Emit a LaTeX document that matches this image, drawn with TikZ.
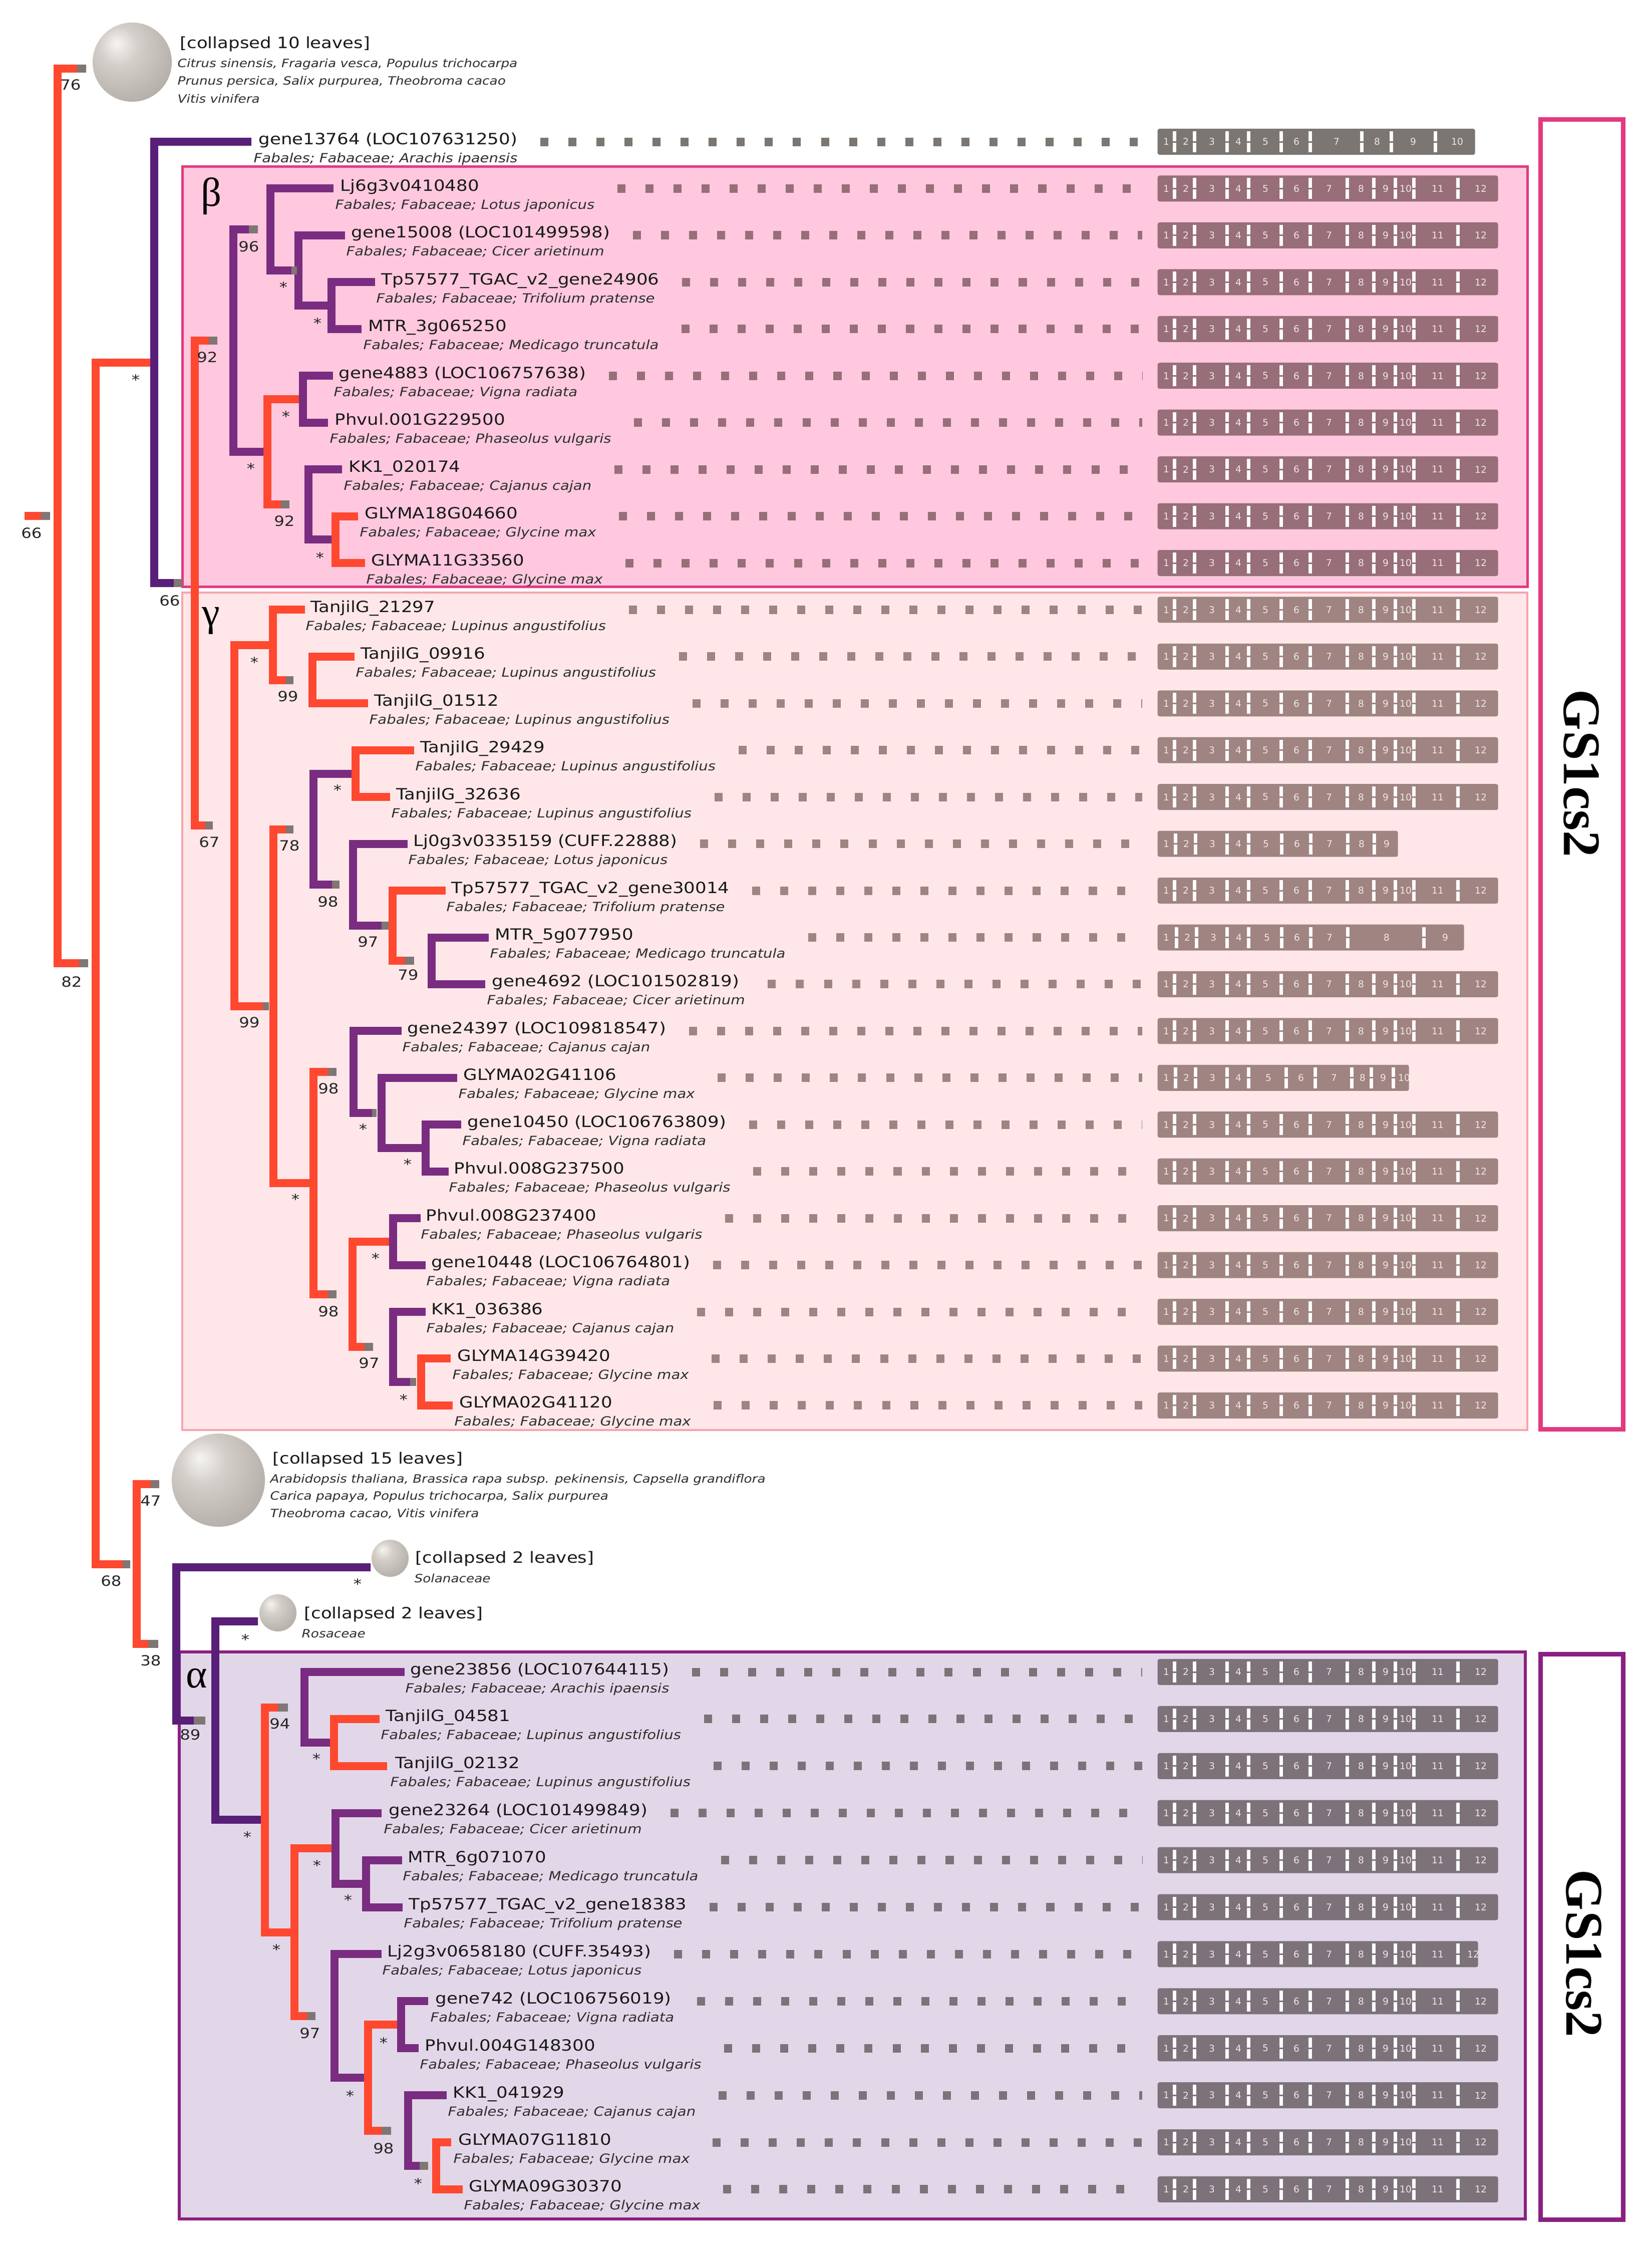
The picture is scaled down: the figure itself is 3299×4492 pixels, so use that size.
\documentclass[tikz,border=0pt]{standalone}
\usepackage{fontspec}
\usetikzlibrary{calc}
\newfontfamily\nmf{DejaVu Sans}[FakeStretch=1.15]
\newfontfamily\exf{DejaVu Sans}
\newfontfamily\grf{Liberation Serif}
\definecolor{cR}{RGB}{255,72,48}
\definecolor{cP}{RGB}{88,30,120}
\definecolor{cQ}{RGB}{122,44,128}
\definecolor{cGr}{RGB}{128,118,115}
\definecolor{bFi}{RGB}{255,200,222}
\definecolor{bBd}{RGB}{226,58,128}
\definecolor{gFi}{RGB}{255,231,233}
\definecolor{gBd}{RGB}{247,165,172}
\definecolor{aFi}{RGB}{226,215,232}
\definecolor{aBd}{RGB}{138,32,130}
\definecolor{exW}{RGB}{123,118,113}
\definecolor{exB}{RGB}{152,110,120}
\definecolor{exG}{RGB}{160,132,130}
\definecolor{exA}{RGB}{126,114,122}
\definecolor{exT}{RGB}{238,230,230}
\definecolor{ballA}{RGB}{246,244,242}
\definecolor{ballB}{RGB}{212,207,202}
\definecolor{ballC}{RGB}{186,180,174}
\definecolor{ballD}{RGB}{160,153,147}
\colorlet{excol}{exW}
\pgfdeclareradialshading{cball}{\pgfpoint{-10bp}{12bp}}{color(0bp)=(ballA); color(12bp)=(ballB); color(30bp)=(ballC); color(50bp)=(ballD); color(75bp)=(ballD)}
\tikzset{
 br/.style={line width=0.16cm, line join=miter},
 nm/.style={font=\nmf\fontsize{8.8}{10}\selectfont, inner sep=0pt, text=black!90},
 spn/.style={font=\nmf\itshape\fontsize{7.2}{8}\selectfont, inner sep=0pt, text=black!82},
 cl/.style={font=\nmf\fontsize{8.8}{10}\selectfont, inner sep=0pt, anchor=west, text=black!90},
 cls/.style={font=\nmf\itshape\fontsize{6.5}{8}\selectfont, inner sep=0pt, anchor=west, text=black!82},
 bs/.style={font=\nmf\fontsize{8}{9}\selectfont, inner sep=0pt, text=black!85},
 st/.style={bs, yshift=-0.06cm},
 extxt/.style={font=\exf\fontsize{5.3}{6}\selectfont, text=exT, inner sep=0pt},
 exbox/.style={fill=excol, rounded corners=0.04cm, minimum height=0.52cm, inner sep=0pt},
 dl/.style={draw=excol, line width=0.17cm, dash pattern=on 0.16cm off 0.40cm},
 grk/.style={font=\grf\fontsize{23}{24}\selectfont, inner sep=0pt},
 gslab/.style={font=\grf\bfseries\fontsize{30}{32}\selectfont, rotate=-90, inner sep=0pt},
}
\def\sepsS{34,74,139,182,247,305,379,432,475,512,600}
\def\labsS{18/1,57/2,109/3,162/4,216/5,278/6,343/7,407/8,456/9,496/10,560/11,646/12}
\def\labsSs{18/1,57/2,109/3,162/4,216/5,278/6,343/7,407/8,456/9,496/10,560/11,631/12}
\def\sepsT{34,74,139,182,247,305,408,467,555}
\def\labsT{18/1,57/2,109/3,162/4,216/5,278/6,358/7,439/8,511/9,599/10}
\def\sepsNa{36,76,139,182,248,306,380,433}
\def\labsNa{18/1,58/2,110/3,162/4,217/5,279/6,344/7,408/8,458/9}
\def\sepsNb{38,78,139,182,248,306,380,532}
\def\labsNb{18/1,60/2,112/3,163/4,219/5,279/6,344/7,458/8,575/9}
\def\sepsTb{36,76,139,182,257,315,388,427,471}
\def\labsTb{18/1,58/2,110/3,162/4,222/5,287/6,353/7,410/8,451/9,493/10}
\newcommand{\exonrow}[5]{%
  \node[exbox, minimum width=#3*0.01cm, anchor=west] (#1) at (2311,#2) {};
  \begin{scope}
    \clip (2311,#2-30) rectangle (2311+#3,#2+30);
    \foreach \sx in #4 {%
      \fill[white] (2311+\sx-3.5,#2-21) rectangle (2311+\sx+3.5,#2+21);
      \draw[excol, line width=0.03cm] (2311+\sx-8,#2) -- (2311+\sx+3.5,#2);
    }
    \foreach \px/\lb in #5 {\node[extxt] at (2311+\px,#2) {\lb};}
  \end{scope}}
\newcommand{\tleaf}[8]{%
  \node[nm, anchor=base west] (#1) at (#3,#2+5) {#4};
  \node[spn, anchor=base west] (#1s) at (#3-10,#2+41) {Fabales; Fabaceae; #5};
  \exonrow{#1e}{#2}{#6}{#7}{#8}
  \draw[dl] let \p1=(#1.east), \p2=(#1s.east), \p3=(#1e.west) in ({max(\x1,\x2)+0.45cm},\y3) -- ([xshift=-0.3cm]#1e.west);
}
\newcommand{\tbrk}[4]{\draw[br,#1] (#3) -- (#3 -| #2) -- (#4 -| #2) -- (#4);}
\newcommand{\gsq}[3]{\fill[cGr] (#1,#3-8) rectangle (#2,#3+8);}
\begin{document}
\begin{tikzpicture}[x=0.01cm,y=-0.01cm]
\fill[white] (0,0) rectangle (3299,4492);
\useasboundingbox (0,0) rectangle (3299,4492);
% clade boxes
\draw[line width=0.05cm, draw=bBd, fill=bFi] (364,332) rectangle (3050,1171);
\draw[line width=0.04cm, draw=gBd, fill=gFi] (364,1183) rectangle (3050,2855);
\draw[line width=0.06cm, draw=aBd, fill=aFi] (358,3298) rectangle (3046,4430);
\draw[line width=0.09cm, draw=bBd, fill=white] (3076,238) rectangle (3241,2853);
\draw[line width=0.09cm, draw=aBd, fill=white] (3076,3302) rectangle (3241,4431);
\node[gslab] (gsA) at (3158,1544) {GS1cs2};
\node[gslab] (gsB) at (3163,3900) {GS1cs2};
% leaf tips
\coordinate (tL1) at (502,283);
\coordinate (tL2) at (666,376.4);
\coordinate (tL3) at (689,469.9);
\coordinate (tL4) at (749,563.3);
\coordinate (tL5) at (722,656.8);
\coordinate (tL6) at (665,750.2);
\coordinate (tL7) at (655,843.6);
\coordinate (tL8) at (683,937.1);
\coordinate (tL9) at (715,1030.5);
\coordinate (tL10) at (729,1124);
\coordinate (tL11) at (609,1217.4);
\coordinate (tL12) at (708,1310.8);
\coordinate (tL13) at (735,1404.3);
\coordinate (tL14) at (827,1497.7);
\coordinate (tL15) at (779,1591.2);
\coordinate (tL16) at (814,1684.6);
\coordinate (tL17) at (890,1778);
\coordinate (tL18) at (976,1871.5);
\coordinate (tL19) at (969,1964.9);
\coordinate (tL20) at (802,2058.4);
\coordinate (tL21) at (913,2151.8);
\coordinate (tL22) at (921,2245.2);
\coordinate (tL23) at (896,2338.7);
\coordinate (tL24) at (840,2432.1);
\coordinate (tL25) at (850,2525.6);
\coordinate (tL26) at (850,2619);
\coordinate (tL27) at (900,2712.4);
\coordinate (tL28) at (904,2805.9);
\coordinate (tL29) at (808,3338);
\coordinate (tL30) at (758,3431.9);
\coordinate (tL31) at (773,3525.8);
\coordinate (tL32) at (762,3619.7);
\coordinate (tL33) at (803,3713.6);
\coordinate (tL34) at (804,3807.5);
\coordinate (tL35) at (762,3901.4);
\coordinate (tL36) at (855,3995.3);
\coordinate (tL37) at (836,4089.2);
\coordinate (tL38) at (892,4183.1);
\coordinate (tL39) at (901,4277);
\coordinate (tL40) at (924,4370.9);
\coordinate (tC10) at (154,137);
\coordinate (t47) at (301,2963);
\coordinate (tSol) at (740,3129);
\coordinate (tRos) at (515,3237);
% internal nodes and their branch tips
\coordinate (nR0) at (115,1030);
\coordinate (n82) at (191,1923); \coordinate (t82) at (158,1923);
\coordinate (nS) at (308,723.6); \coordinate (tS) at (308,723.6);
\coordinate (n66) at (389,1164.2); \coordinate (t66) at (347,1164.2);
\coordinate (nB92) at (466,680.1); \coordinate (tB92) at (417,680.1);
\coordinate (nA96) at (540,458.2); \coordinate (tA96) at (497,458.2);
\coordinate (nB) at (596,540); \coordinate (tB) at (582,540);
\coordinate (nC) at (662,610); \coordinate (tC) at (662,610);
\coordinate (nD) at (534,902); \coordinate (tD) at (534,902);
\coordinate (nE) at (605,796.9); \coordinate (tE) at (605,796.9);
\coordinate (nF92) at (616,1007.2); \coordinate (tF92) at (561,1007.2);
\coordinate (nG) at (670,1077.3); \coordinate (tG) at (670,1077.3);
\coordinate (nG67) at (468,1648.2); \coordinate (tG67) at (410,1648.2);
\coordinate (nT) at (545,1287.5); \coordinate (tT) at (545,1287.5);
\coordinate (nU99) at (624,1357.6); \coordinate (tU99) at (571,1357.6);
\coordinate (nH99) at (546,2008.8); \coordinate (tH99) at (525,2008.8);
\coordinate (nI78) at (626,1655.5); \coordinate (tI78) at (571,1655.5);
\coordinate (nK) at (710,1544.5); \coordinate (tK) at (710,1544.5);
\coordinate (nL98) at (705,1766.4); \coordinate (tL98) at (663,1766.4);
\coordinate (nM97) at (784,1848.1); \coordinate (tM97) at (762,1848.1);
\coordinate (nN79) at (862,1918.2); \coordinate (tN79) at (808,1918.2);
\coordinate (nJ) at (626,2362.1); \coordinate (tJ) at (626,2362.1);
\coordinate (nO98) at (706,2140.2); \coordinate (tO98) at (655,2140.2);
\coordinate (nQ) at (762,2221.9); \coordinate (tQ) at (743,2221.9);
\coordinate (nR) at (850,2292); \coordinate (tR) at (850,2292);
\coordinate (nP98) at (704,2584); \coordinate (tP98) at (655,2584);
\coordinate (nV) at (785,2478.9); \coordinate (tV) at (785,2478.9);
\coordinate (nW97) at (785,2689.1); \coordinate (tW97) at (728,2689.1);
\coordinate (nX) at (841,2759.2); \coordinate (tX) at (819,2759.2);
\coordinate (n68) at (273,3122.5); \coordinate (t68) at (245,3122.5);
\coordinate (n38) at (352,3282); \coordinate (t38) at (296,3282);
\coordinate (n89) at (430,3435); \coordinate (t89) at (387,3435);
\coordinate (nAl) at (529,3633); \coordinate (tAl) at (529,3633);
\coordinate (n94) at (608,3408.5); \coordinate (t94) at (555,3408.5);
\coordinate (nY) at (667,3478.9); \coordinate (tY) at (667,3478.9);
\coordinate (nZ) at (588,3857.5); \coordinate (tZ) at (588,3857.5);
\coordinate (nAA) at (670,3690.2); \coordinate (tAA) at (670,3690.2);
\coordinate (nAC) at (731,3760.6); \coordinate (tAC) at (731,3760.6);
\coordinate (nAB97) at (668,4024.7); \coordinate (tAB97) at (613,4024.7);
\coordinate (nAD) at (735,4148); \coordinate (tAD) at (735,4148);
\coordinate (nAE) at (801,4042.3); \coordinate (tAE) at (801,4042.3);
\coordinate (nAF98) at (815,4253.6); \coordinate (tAF98) at (762,4253.6);
\coordinate (nAG) at (871,4324); \coordinate (tAG) at (838,4324);
% root stub
\coordinate (rootL) at (49,1030); \coordinate (rootT) at (82,1030);
\draw[br,cR] (rootL) -- (rootT);
% brackets
\tbrk{cR}{nR0}{tC10}{t82}
\tbrk{cR}{n82}{tS}{t68}
\tbrk{cP}{nS}{tL1}{t66}
\tbrk{cR}{n66}{tB92}{tG67}
\tbrk{cQ}{nB92}{tA96}{tD}
\tbrk{cQ}{nA96}{tL2}{tB}
\tbrk{cQ}{nB}{tL3}{tC}
\tbrk{cQ}{nC}{tL4}{tL5}
\tbrk{cR}{nD}{tE}{tF92}
\tbrk{cQ}{nE}{tL6}{tL7}
\tbrk{cQ}{nF92}{tL8}{tG}
\tbrk{cR}{nG}{tL9}{tL10}
\tbrk{cR}{nG67}{tT}{tH99}
\tbrk{cR}{nT}{tL11}{tU99}
\tbrk{cR}{nU99}{tL12}{tL13}
\tbrk{cR}{nH99}{tI78}{tJ}
\tbrk{cQ}{nI78}{tK}{tL98}
\tbrk{cR}{nK}{tL14}{tL15}
\tbrk{cQ}{nL98}{tL16}{tM97}
\tbrk{cR}{nM97}{tL17}{tN79}
\tbrk{cQ}{nN79}{tL18}{tL19}
\tbrk{cR}{nJ}{tO98}{tP98}
\tbrk{cQ}{nO98}{tL20}{tQ}
\tbrk{cQ}{nQ}{tL21}{tR}
\tbrk{cQ}{nR}{tL22}{tL23}
\tbrk{cR}{nP98}{tV}{tW97}
\tbrk{cQ}{nV}{tL24}{tL25}
\tbrk{cQ}{nW97}{tL26}{tX}
\tbrk{cR}{nX}{tL27}{tL28}
\tbrk{cR}{n68}{t47}{t38}
\tbrk{cP}{n38}{tSol}{t89}
\tbrk{cP}{n89}{tRos}{tAl}
\tbrk{cR}{nAl}{t94}{tZ}
\tbrk{cQ}{n94}{tL29}{tY}
\tbrk{cR}{nY}{tL30}{tL31}
\tbrk{cR}{nZ}{tAA}{tAB97}
\tbrk{cQ}{nAA}{tL32}{tAC}
\tbrk{cQ}{nAC}{tL33}{tL34}
\tbrk{cQ}{nAB97}{tL35}{tAD}
\tbrk{cR}{nAD}{tAE}{tAF98}
\tbrk{cQ}{nAE}{tL36}{tL37}
\tbrk{cQ}{nAF98}{tL38}{tAG}
\tbrk{cR}{nAG}{tL39}{tL40}
% support squares
\gsq{82}{100}{1030}
\gsq{154}{172}{137}
\gsq{158}{176}{1923}
\gsq{347}{364}{1164.2}
\gsq{417}{434}{680.1}
\gsq{497}{515}{458.2}
\gsq{582}{593}{540}
\gsq{561}{578}{1007.2}
\gsq{410}{425}{1648.2}
\gsq{571}{586}{1357.6}
\gsq{525}{537}{2008.8}
\gsq{571}{586}{1655.5}
\gsq{663}{678}{1766.4}
\gsq{762}{776}{1848.1}
\gsq{808}{827}{1918.2}
\gsq{655}{672}{2140.2}
\gsq{743}{752}{2221.9}
\gsq{655}{672}{2584}
\gsq{728}{745}{2689.1}
\gsq{819}{831}{2759.2}
\gsq{245}{260}{3122.5}
\gsq{301}{318}{2963}
\gsq{296}{316}{3282}
\gsq{387}{410}{3435}
\gsq{555}{575}{3408.5}
\gsq{613}{630}{4024.7}
\gsq{762}{781}{4253.6}
\gsq{838}{855}{4324}
% support labels
\node[bs] (b1) at (63,1064) {66};
\node[bs] (b2) at (141,169) {76};
\node[bs] (b3) at (143,1960) {82};
\node[st] (b4) at (271,752) {*};
\node[bs] (b5) at (339,1199) {66};
\node[bs] (b6) at (414,713) {92};
\node[bs] (b7) at (497,492) {96};
\node[st] (b8) at (566,567) {*};
\node[st] (b9) at (634,639) {*};
\node[st] (b10) at (501,929) {*};
\node[st] (b11) at (571,825) {*};
\node[bs] (b12) at (568,1040) {92};
\node[st] (b13) at (639,1107) {*};
\node[bs] (b14) at (418,1681) {67};
\node[st] (b15) at (508,1316) {*};
\node[bs] (b16) at (575,1390) {99};
\node[bs] (b17) at (498,2041) {99};
\node[bs] (b18) at (578,1688) {78};
\node[st] (b19) at (674,1571) {*};
\node[bs] (b20) at (655,1800) {98};
\node[bs] (b21) at (735,1880) {97};
\node[bs] (b22) at (815,1946) {79};
\node[st] (b23) at (590,2388) {*};
\node[bs] (b24) at (656,2173) {98};
\node[st] (b25) at (725,2248) {*};
\node[st] (b26) at (814,2318) {*};
\node[bs] (b27) at (656,2618) {98};
\node[st] (b28) at (750,2506) {*};
\node[bs] (b29) at (737,2721) {97};
\node[st] (b30) at (806,2788) {*};
\node[bs] (b31) at (222,3156) {68};
\node[bs] (b32) at (301,2996) {47};
\node[bs] (b33) at (301,3315) {38};
\node[st] (b34) at (714,3156) {*};
\node[bs] (b35) at (380,3463) {89};
\node[st] (b36) at (490,3267) {*};
\node[st] (b37) at (494,3661) {*};
\node[bs] (b38) at (559,3441) {94};
\node[st] (b39) at (632,3505) {*};
\node[st] (b40) at (552,3886) {*};
\node[st] (b41) at (633,3718) {*};
\node[st] (b42) at (695,3787) {*};
\node[bs] (b43) at (619,4059) {97};
\node[st] (b44) at (699,4178) {*};
\node[st] (b45) at (766,4072) {*};
\node[bs] (b46) at (766,4289) {98};
\node[st] (b47) at (835,4353) {*};
% collapsed clades
\shade[shading=cball] (264,124) circle (0.79cm);
\node[cl] (c10) at (359,88) {[collapsed 10 leaves]};
\node[cls] (c10a) at (354,128) {Citrus sinensis, Fragaria vesca, Populus trichocarpa};
\node[cls] (c10b) at (354,163) {Prunus persica, Salix purpurea, Theobroma cacao};
\node[cls] (c10c) at (354,197) {Vitis vinifera};
\shade[shading=cball] (436,2955) circle (0.93cm);
\node[cl] (c15) at (544,2914) {[collapsed 15 leaves]};
\node[cls] (c15a) at (539,2954) {Arabidopsis thaliana, Brassica rapa subsp. pekinensis, Capsella grandiflora};
\node[cls] (c15b) at (539,2988) {Carica papaya, Populus trichocarpa, Salix purpurea};
\node[cls] (c15c) at (539,3022) {Theobroma cacao, Vitis vinifera};
\shade[shading=cball] (779,3111) circle (0.37cm);
\node[cl] (cS) at (829,3112) {[collapsed 2 leaves]};
\node[cls] (cSa) at (827,3151) {Solanaceae};
\shade[shading=cball] (555,3220) circle (0.37cm);
\node[cl] (cRo) at (607,3223) {[collapsed 2 leaves]};
\node[cls] (cRoa) at (602,3261) {Rosaceae};
% clade letters
\node[grk] (gb) at (422,392) {β};
\node[grk] (gg) at (421,1240) {γ};
\node[grk] (ga) at (393,3351) {α};
% leaves
\colorlet{excol}{exW}
\tleaf{L1}{283}{516}{gene13764 (LOC107631250)}{Arachis ipaensis}{634}{\sepsT}{\labsT}
\colorlet{excol}{exB}
\tleaf{L2}{376.4}{679}{Lj6g3v0410480}{Lotus japonicus}{680}{\sepsS}{\labsS}
\tleaf{L3}{469.9}{701}{gene15008 (LOC101499598)}{Cicer arietinum}{680}{\sepsS}{\labsS}
\tleaf{L4}{563.3}{761}{Tp57577\_TGAC\_v2\_gene24906}{Trifolium pratense}{680}{\sepsS}{\labsS}
\tleaf{L5}{656.8}{735}{MTR\_3g065250}{Medicago truncatula}{680}{\sepsS}{\labsS}
\tleaf{L6}{750.2}{676}{gene4883 (LOC106757638)}{Vigna radiata}{680}{\sepsS}{\labsS}
\tleaf{L7}{843.6}{668}{Phvul.001G229500}{Phaseolus vulgaris}{680}{\sepsS}{\labsS}
\tleaf{L8}{937.1}{696}{KK1\_020174}{Cajanus cajan}{680}{\sepsS}{\labsS}
\tleaf{L9}{1030.5}{728}{GLYMA18G04660}{Glycine max}{680}{\sepsS}{\labsS}
\tleaf{L10}{1124}{741}{GLYMA11G33560}{Glycine max}{680}{\sepsS}{\labsS}
\colorlet{excol}{exG}
\tleaf{L11}{1217.4}{620}{TanjilG\_21297}{Lupinus angustifolius}{680}{\sepsS}{\labsS}
\tleaf{L12}{1310.8}{720}{TanjilG\_09916}{Lupinus angustifolius}{680}{\sepsS}{\labsS}
\tleaf{L13}{1404.3}{747}{TanjilG\_01512}{Lupinus angustifolius}{680}{\sepsS}{\labsS}
\tleaf{L14}{1497.7}{839}{TanjilG\_29429}{Lupinus angustifolius}{680}{\sepsS}{\labsS}
\tleaf{L15}{1591.2}{791}{TanjilG\_32636}{Lupinus angustifolius}{680}{\sepsS}{\labsS}
\tleaf{L16}{1684.6}{825}{Lj0g3v0335159 (CUFF.22888)}{Lotus japonicus}{480}{\sepsNa}{\labsNa}
\tleaf{L17}{1778}{901}{Tp57577\_TGAC\_v2\_gene30014}{Trifolium pratense}{680}{\sepsS}{\labsS}
\tleaf{L18}{1871.5}{988}{MTR\_5g077950}{Medicago truncatula}{612}{\sepsNb}{\labsNb}
\tleaf{L19}{1964.9}{982}{gene4692 (LOC101502819)}{Cicer arietinum}{680}{\sepsS}{\labsS}
\tleaf{L20}{2058.4}{813}{gene24397 (LOC109818547)}{Cajanus cajan}{680}{\sepsS}{\labsS}
\tleaf{L21}{2151.8}{925}{GLYMA02G41106}{Glycine max}{502}{\sepsTb}{\labsTb}
\tleaf{L22}{2245.2}{933}{gene10450 (LOC106763809)}{Vigna radiata}{680}{\sepsS}{\labsS}
\tleaf{L23}{2338.7}{906}{Phvul.008G237500}{Phaseolus vulgaris}{680}{\sepsS}{\labsS}
\tleaf{L24}{2432.1}{850}{Phvul.008G237400}{Phaseolus vulgaris}{680}{\sepsS}{\labsS}
\tleaf{L25}{2525.6}{861}{gene10448 (LOC106764801)}{Vigna radiata}{680}{\sepsS}{\labsS}
\tleaf{L26}{2619}{861}{KK1\_036386}{Cajanus cajan}{680}{\sepsS}{\labsS}
\tleaf{L27}{2712.4}{913}{GLYMA14G39420}{Glycine max}{680}{\sepsS}{\labsS}
\tleaf{L28}{2805.9}{917}{GLYMA02G41120}{Glycine max}{680}{\sepsS}{\labsS}
\colorlet{excol}{exA}
\tleaf{L29}{3338}{819}{gene23856 (LOC107644115)}{Arachis ipaensis}{680}{\sepsS}{\labsS}
\tleaf{L30}{3431.9}{770}{TanjilG\_04581}{Lupinus angustifolius}{680}{\sepsS}{\labsS}
\tleaf{L31}{3525.8}{789}{TanjilG\_02132}{Lupinus angustifolius}{680}{\sepsS}{\labsS}
\tleaf{L32}{3619.7}{776}{gene23264 (LOC101499849)}{Cicer arietinum}{680}{\sepsS}{\labsS}
\tleaf{L33}{3713.6}{814}{MTR\_6g071070}{Medicago truncatula}{680}{\sepsS}{\labsS}
\tleaf{L34}{3807.5}{816}{Tp57577\_TGAC\_v2\_gene18383}{Trifolium pratense}{680}{\sepsS}{\labsS}
\tleaf{L35}{3901.4}{773}{Lj2g3v0658180 (CUFF.35493)}{Lotus japonicus}{640}{\sepsS}{\labsSs}
\tleaf{L36}{3995.3}{869}{gene742 (LOC106756019)}{Vigna radiata}{680}{\sepsS}{\labsS}
\tleaf{L37}{4089.2}{848}{Phvul.004G148300}{Phaseolus vulgaris}{680}{\sepsS}{\labsS}
\tleaf{L38}{4183.1}{904}{KK1\_041929}{Cajanus cajan}{680}{\sepsS}{\labsS}
\tleaf{L39}{4277}{915}{GLYMA07G11810}{Glycine max}{680}{\sepsS}{\labsS}
\tleaf{L40}{4370.9}{936}{GLYMA09G30370}{Glycine max}{680}{\sepsS}{\labsS}
\end{tikzpicture}
\end{document}
